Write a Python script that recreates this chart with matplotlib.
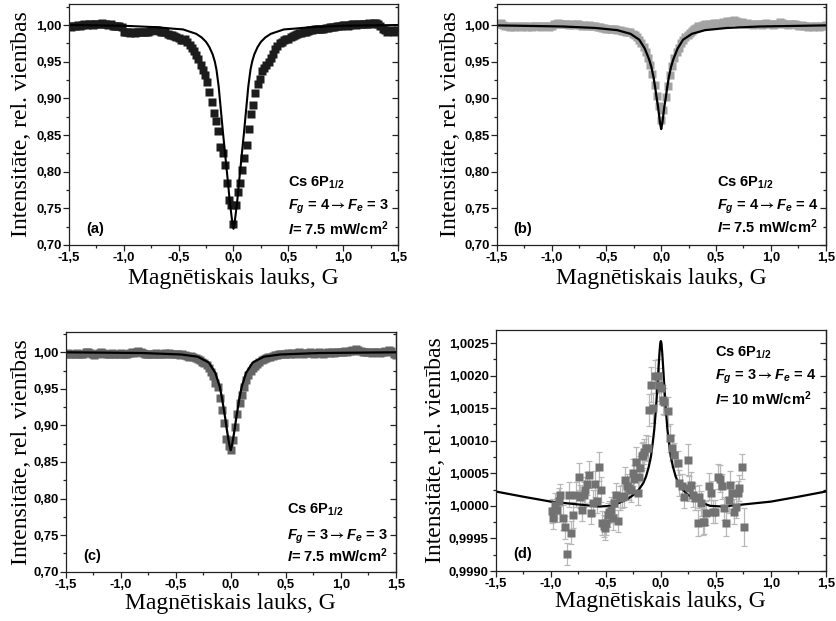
import matplotlib as mpl
mpl.use('Agg')
import matplotlib.pyplot as plt
from matplotlib.ticker import MultipleLocator, FuncFormatter
import numpy as np

plt.rcParams['font.family'] = ['Liberation Sans', 'DejaVu Sans']
plt.rcParams['mathtext.fontset'] = 'custom'
plt.rcParams['mathtext.rm'] = 'Liberation Sans:bold'
plt.rcParams['mathtext.it'] = 'Liberation Sans:bold:italic'
plt.rcParams['mathtext.bf'] = 'Liberation Sans:bold'
plt.rcParams['mathtext.sf'] = 'STIXGeneral:bold'
plt.rcParams['mathtext.fallback'] = 'stixsans'

#---------------------- measured signals (field scan -1.5 .. 1.5 G, step 0.02 G)
field = np.linspace(-1.5, 1.5, 151)

sig_a = [0.998, 0.997, 0.999, 0.998, 1.000, 0.999, 1.000, 1.001, 1.000, 1.001,
         1.001, 1.000, 1.001, 1.002, 1.001, 1.003, 1.002, 1.002, 1.000, 1.001,
         0.999, 0.999, 0.998, 0.998, 0.997, 0.991, 0.990, 0.990, 0.989, 0.990,
         0.989, 0.990, 0.991, 0.991, 0.991, 0.990, 0.991, 0.992, 0.993, 0.993,
         0.993, 0.992, 0.991, 0.991, 0.990, 0.988, 0.987, 0.986, 0.985, 0.984,
         0.982, 0.980, 0.979, 0.981, 0.977, 0.973, 0.969, 0.964, 0.959, 0.953,
         0.946, 0.939, 0.932, 0.922, 0.909, 0.895, 0.880, 0.869, 0.855, 0.834,
         0.825, 0.809, 0.784, 0.762, 0.754, 0.728, 0.754, 0.772, 0.784, 0.802,
         0.819, 0.836, 0.858, 0.879, 0.891, 0.907, 0.919, 0.927, 0.937, 0.942,
         0.945, 0.950, 0.955, 0.961, 0.967, 0.972, 0.975, 0.977, 0.979, 0.981,
         0.981, 0.983, 0.985, 0.986, 0.988, 0.989, 0.989, 0.990, 0.991, 0.992,
         0.993, 0.993, 0.994, 0.994, 0.995, 0.995, 0.995, 0.996, 0.996, 0.997,
         0.997, 0.997, 0.998, 0.998, 0.999, 1.000, 1.000, 0.999, 1.000, 1.001,
         1.001, 1.000, 1.001, 1.002, 1.001, 1.002, 1.002, 1.003, 1.002, 1.003,
         1.003, 1.002, 0.998, 0.994, 0.993, 0.991, 0.992, 0.993, 0.991, 0.992,
         0.993]

sig_b = [1.002, 1.001, 1.003, 1.000, 0.999, 0.998, 0.997, 0.998, 0.997, 0.998,
         0.998, 0.997, 0.999, 0.998, 0.997, 0.998, 0.997, 0.998, 0.999, 0.998,
         0.997, 0.998, 0.999, 0.998, 0.997, 0.999, 1.001, 1.002, 1.003, 1.002,
         1.001, 1.002, 1.001, 1.000, 1.001, 1.000, 1.002, 1.001, 1.000, 0.999,
         1.000, 0.999, 1.000, 0.999, 0.998, 0.998, 0.997, 0.997, 0.996, 0.996,
         0.995, 0.995, 0.994, 0.995, 0.994, 0.993, 0.993, 0.992, 0.992, 0.991,
         0.990, 0.990, 0.988, 0.986, 0.983, 0.979, 0.975, 0.970, 0.963, 0.955,
         0.946, 0.933, 0.918, 0.903, 0.890, 0.870, 0.884, 0.902, 0.917, 0.932,
         0.944, 0.955, 0.963, 0.969, 0.975, 0.979, 0.984, 0.987, 0.989, 0.992,
         0.994, 0.996, 0.998, 0.999, 1.000, 1.001, 1.000, 1.002, 1.001, 1.003,
         1.002, 1.003, 1.002, 1.004, 1.003, 1.005, 1.004, 1.006, 1.007, 1.005,
         1.004, 1.003, 1.004, 1.002, 1.003, 1.001, 1.002, 1.000, 1.001, 1.002,
         1.001, 1.000, 1.002, 1.003, 1.002, 1.001, 1.000, 1.001, 1.002, 1.004,
         1.003, 1.002, 1.001, 1.000, 1.001, 1.002, 1.001, 1.000, 0.999, 1.000,
         0.998, 0.999, 0.997, 0.998, 0.997, 0.999, 0.998, 0.997, 0.998, 0.999,
         1.000]

sig_c = [0.998, 0.999, 0.998, 0.997, 0.998, 0.999, 0.998, 0.997, 0.998, 1.000,
         1.001, 0.999, 0.998, 0.996, 0.998, 0.999, 1.000, 0.999, 0.998, 0.997,
         0.998, 0.999, 0.998, 0.997, 0.998, 0.999, 0.998, 0.997, 0.998, 0.999,
         1.000, 0.999, 1.001, 1.002, 1.000, 0.999, 0.998, 0.997, 0.998, 0.997,
         0.998, 0.999, 0.998, 0.997, 0.998, 0.999, 0.998, 0.999, 0.998, 0.997,
         0.998, 0.997, 0.996, 0.997, 0.996, 0.995, 0.994, 0.995, 0.993, 0.992,
         0.991, 0.989, 0.987, 0.985, 0.982, 0.978, 0.973, 0.968, 0.958, 0.953,
         0.938, 0.921, 0.904, 0.882, 0.872, 0.866, 0.880, 0.898, 0.915, 0.931,
         0.942, 0.953, 0.962, 0.969, 0.974, 0.978, 0.981, 0.984, 0.987, 0.989,
         0.991, 0.992, 0.993, 0.994, 0.995, 0.996, 0.996, 0.997, 0.997, 0.998,
         0.998, 0.999, 0.998, 0.999, 0.998, 0.999, 1.000, 0.999, 0.998, 0.999,
         0.999, 1.000, 0.999, 0.998, 0.999, 1.000, 0.999, 0.998, 0.999, 1.000,
         0.999, 1.000, 0.999, 1.000, 1.001, 1.000, 1.001, 1.002, 1.001, 1.002,
         1.003, 1.002, 1.004, 1.003, 1.002, 1.001, 1.000, 1.001, 1.000, 0.999,
         1.000, 1.001, 1.000, 0.999, 1.001, 1.002, 1.001, 1.003, 1.002, 0.998,
         0.996]

# panel (d): bright resonance, points with error bars
d_x = [-0.990, -0.978, -0.960, -0.945, -0.930, -0.920, -0.893, -0.872, -0.854, -0.839,
       -0.818, -0.796, -0.772, -0.748, -0.733, -0.718, -0.696, -0.687, -0.675, -0.657,
       -0.636, -0.615, -0.602, -0.584, -0.566, -0.545, -0.536, -0.520, -0.508, -0.499,
       -0.484, -0.469, -0.453, -0.438, -0.423, -0.408, -0.387, -0.372, -0.353, -0.332,
       -0.323, -0.311, -0.293, -0.272, -0.256, -0.241, -0.226, -0.211, -0.196, -0.190,
       -0.175, -0.165, -0.150, -0.135, -0.120, -0.105, -0.090, -0.068, -0.050, -0.029,
       -0.014, 0.004, 0.017, 0.030, 0.062, 0.083, 0.102, 0.123, 0.153, 0.168,
       0.193, 0.214, 0.244, 0.253, 0.274, 0.295, 0.314, 0.335, 0.350, 0.365,
       0.380, 0.396, 0.411, 0.435, 0.456, 0.477, 0.496, 0.517, 0.538, 0.556,
       0.578, 0.593, 0.617, 0.629, 0.648, 0.669, 0.684, 0.699, 0.714, 0.738,
       0.760]
d_y = [0.99992, 0.99982, 1.00001, 0.99994, 1.00007, 1.00017, 0.99982, 0.99967, 0.99926, 1.00017,
       0.99959, 0.99986, 1.00017, 1.00045, 1.00014, 0.99994, 1.00017, 1.00025, 1.00034, 1.00048,
       0.99989, 1.00005, 1.00034, 1.00007, 1.00060, 1.00025, 0.99974, 0.99969, 0.99966, 0.99973,
       0.99986, 0.99991, 0.99994, 0.99981, 1.00004, 1.00017, 0.99977, 1.00012, 1.00014, 1.00015,
       1.00039, 1.00030, 1.00027, 1.00025, 1.00051, 1.00042, 1.00068, 1.00019, 1.00045, 1.00058,
       1.00076, 1.00078, 1.00083, 1.00089, 1.00089, 1.00147, 1.00186, 1.00150, 1.00199, 1.00199,
       1.00186, 1.00181, 1.00163, 1.00160, 1.00145, 1.00104, 1.00089, 1.00078, 1.00066, 1.00035,
       1.00030, 1.00014, 1.00071, 1.00027, 1.00032, 1.00017, 1.00012, 0.99973, 1.00014, 1.00004,
       0.99976, 0.99976, 0.99989, 1.00030, 1.00019, 0.99991, 0.99991, 1.00045, 1.00042, 1.00030,
       0.99996, 0.99973, 1.00009, 1.00032, 1.00019, 0.99991, 0.99999, 1.00019, 1.00027, 1.00060,
       0.99968]
# error bars, in units of 1e-5
d_err = np.array([18, 17, 19, 18, 20, 17, 19, 18, 17, 19,
                  18, 20, 19, 21, 18, 17, 19, 20, 18, 21,
                  17, 19, 20, 18, 22, 19, 18, 17, 19, 18,
                  18, 17, 19, 18, 17, 18, 17, 19, 18, 17,
                  20, 19, 18, 19, 21, 20, 22, 18, 20, 19,
                  21, 20, 19, 20, 19, 24, 27, 23, 25, 26,
                  25, 24, 22, 21, 22, 21, 20, 19, 18, 20,
                  19, 18, 24, 19, 20, 18, 19, 20, 18, 19,
                  20, 19, 18, 21, 19, 18, 18, 19, 20, 19,
                  18, 19, 20, 21, 18, 19, 18, 19, 20, 19,
                  29]) * 1e-5

#---------------------- theoretical curves
fit_a_x = [-1.5, -1.0, -0.7, -0.55, -0.46, -0.40, -0.34, -0.29, -0.25, -0.22, -0.19,
           -0.17, -0.155, -0.135, -0.115, -0.095, -0.08, -0.065, -0.05, -0.035, -0.02,
           -0.01, 0.0, 0.01, 0.02, 0.035, 0.05, 0.065, 0.08, 0.095, 0.115, 0.135, 0.155,
           0.17, 0.19, 0.22, 0.25, 0.29, 0.34, 0.40, 0.46, 0.55, 0.7, 1.0, 1.5]
fit_a_y = [1.000, 0.999, 0.997, 0.995, 0.994, 0.991, 0.988, 0.983, 0.977, 0.970, 0.960,
           0.950, 0.939, 0.916, 0.884, 0.852, 0.830, 0.807, 0.785, 0.761, 0.742,
           0.730, 0.722, 0.730, 0.742, 0.761, 0.785, 0.807, 0.830, 0.852, 0.884, 0.916, 0.939,
           0.950, 0.960, 0.970, 0.977, 0.983, 0.988, 0.991, 0.994, 0.995, 0.997, 0.999, 1.000]

fit_b_x = [-1.5, -0.9, -0.6, -0.4, -0.28, -0.2, -0.15, -0.11, -0.09, -0.07, -0.055,
           -0.04, -0.03, -0.02, -0.01, 0.0, 0.01, 0.02, 0.03, 0.04, 0.055, 0.07,
           0.09, 0.11, 0.15, 0.2, 0.28, 0.4, 0.6, 0.9, 1.5]
fit_b_y = [0.9995, 0.998, 0.996, 0.993, 0.988, 0.980, 0.968, 0.953, 0.943, 0.929, 0.915,
           0.899, 0.890, 0.878, 0.866, 0.858, 0.866, 0.878, 0.890, 0.899, 0.915, 0.929,
           0.943, 0.953, 0.968, 0.980, 0.988, 0.993, 0.996, 0.998, 0.9995]

fit_c_x = [-1.5, -0.8, -0.45, -0.3, -0.2, -0.14, -0.1, -0.08, -0.065, -0.05, -0.035,
           -0.02, -0.01, 0.0, 0.01, 0.02, 0.035, 0.05, 0.065, 0.08, 0.1, 0.14, 0.2,
           0.3, 0.45, 0.8, 1.5]
fit_c_y = [1.000, 0.999, 0.997, 0.994, 0.986, 0.972, 0.953, 0.938, 0.924, 0.910, 0.894,
           0.880, 0.872, 0.866, 0.872, 0.880, 0.894, 0.910, 0.924, 0.938, 0.953, 0.972, 0.986,
           0.994, 0.997, 0.999, 1.000]

fit_d_x = [-1.5, -1.25, -1.0, -0.77, -0.56, -0.45, -0.4, -0.35, -0.29, -0.24, -0.2, -0.16,
           -0.135, -0.11, -0.09, -0.075, -0.06, -0.048, -0.038, -0.028, -0.02, -0.012, -0.005,
           0.0, 0.005, 0.012, 0.02, 0.028, 0.038, 0.048, 0.06, 0.075, 0.09, 0.11, 0.135,
           0.16, 0.2, 0.24, 0.29, 0.35, 0.4, 0.45, 0.56, 0.77, 1.0, 1.25, 1.5]
fit_d_y = [1.00022, 1.00014, 1.000065, 1.000025, 0.99999, 1.00000, 1.00003, 1.00007, 1.00012,
           1.00018, 1.00025, 1.00035, 1.00045, 1.00060, 1.00076, 1.00095, 1.00117, 1.00142,
           1.00166, 1.00193, 1.00215, 1.00236, 1.00250, 1.00253, 1.00250, 1.00236, 1.00215,
           1.00193, 1.00166, 1.00142, 1.00117, 1.00095, 1.00076, 1.00060, 1.00045, 1.00035,
           1.00025, 1.00018, 1.00012, 1.00007, 1.00003, 1.00000, 0.99999, 1.000025, 1.000065,
           1.00014, 1.00022]

xlabel = 'Magnētiskais lauks, G'
ylabel = 'Intensitāte, rel. vienības'
serif = ['Liberation Serif', 'DejaVu Serif']
ARROW = r'$\mathsf{\rightarrow}$'


def comma_fmt(ndig):
    def f(v, pos):
        if abs(v) < 1e-9:
            v = 0.0
        return f'{v:.{ndig}f}'.replace('.', ',')
    return FuncFormatter(f)


def style_axes(ax, ylim, ymaj, ymin, ydig, ylab_x, xlab_y):
    ax.set_xlim(-1.5, 1.5)
    ax.set_ylim(*ylim)
    ax.xaxis.set_major_locator(MultipleLocator(0.5))
    ax.xaxis.set_minor_locator(MultipleLocator(0.25))
    ax.yaxis.set_major_locator(MultipleLocator(ymaj))
    ax.yaxis.set_minor_locator(MultipleLocator(ymin))
    ax.xaxis.set_major_formatter(comma_fmt(1))
    ax.yaxis.set_major_formatter(comma_fmt(ydig))
    ax.tick_params(which='both', direction='out', top=False, right=False,
                   labelsize=9.4, width=0.9, color='#222222', pad=1.2)
    ax.tick_params(which='major', length=4)
    ax.tick_params(which='minor', length=2.5)
    for lab in ax.get_xticklabels() + ax.get_yticklabels():
        lab.set_fontweight('bold')
    for sp in ax.spines.values():
        sp.set_linewidth(0.9)
        sp.set_color('#222222')
    # mirrored ticks on the right spine, pointing in
    sec = ax.secondary_yaxis('right')
    sec.yaxis.set_major_locator(MultipleLocator(ymaj))
    sec.yaxis.set_minor_locator(MultipleLocator(ymin))
    sec.tick_params(which='both', direction='in', labelright=False, width=0.9, color='#222222')
    sec.tick_params(which='major', length=4)
    sec.tick_params(which='minor', length=2.5)
    sec.spines['right'].set_linewidth(0.9)
    sec.spines['right'].set_color('#222222')
    ax.set_xlabel(xlabel, family=serif, fontsize=17)
    ax.set_ylabel(ylabel, family=serif, fontsize=17)
    ax.xaxis.set_label_coords(0.5, xlab_y)
    ax.yaxis.set_label_coords(ylab_x, 0.5)


def annotate(ax, x0, ys, lines, tag, tag_xy):
    for y, s in zip(ys, lines):
        ax.text(x0, y, s, transform=ax.transAxes, fontsize=10.5, fontweight='bold',
                va='baseline', ha='left')
    ax.text(tag_xy[0], tag_xy[1], tag, transform=ax.transAxes, fontsize=10.5,
            fontweight='bold', va='baseline', ha='left')


fig = plt.figure(figsize=(8.37, 6.21), dpi=100)
ax_a = fig.add_axes([0.0824, 0.6055, 0.3931, 0.3881])
ax_b = fig.add_axes([0.5934, 0.6055, 0.3931, 0.3881])
ax_c = fig.add_axes([0.0785, 0.0794, 0.3943, 0.3865])
ax_d = fig.add_axes([0.5926, 0.0805, 0.3939, 0.3881])

# (a)
ax_a.plot(field, sig_a, 's', color='#1c1c1c', ms=5.2, mec='none')
ax_a.plot(fit_a_x, fit_a_y, '-', color='black', lw=1.5)
style_axes(ax_a, (0.70, 1.0287), 0.05, 0.025, 2, -0.112, -0.095)
annotate(ax_a, 0.666, [0.242, 0.148, 0.041],
         ['Cs 6P$_{1/2}$', f'$F_g$ = 4{ARROW}$F_e$ = 3', '$I$= 7.5 mW/cm$^2$'],
         '(a)', (0.052, 0.048))

# (b)
ax_b.plot(field, sig_b, 's', color='#a3a3a3', ms=5.2, mec='none')
ax_b.plot(fit_b_x, fit_b_y, '-', color='black', lw=1.6)
style_axes(ax_b, (0.70, 1.0287), 0.05, 0.025, 2, -0.109, -0.095)
annotate(ax_b, 0.669, [0.242, 0.145, 0.048],
         ['Cs 6P$_{1/2}$', f'$F_g$ = 4{ARROW}$F_e$ = 4', '$I$= 7.5 mW/cm$^2$'],
         '(b)', (0.049, 0.048))

# (c)
ax_c.plot(field, sig_c, 's', color='#646464', ms=5.2, mec='none')
ax_c.plot(fit_c_x, fit_c_y, '-', color='black', lw=1.6)
style_axes(ax_c, (0.70, 1.0282), 0.05, 0.025, 2, -0.102, -0.088)
annotate(ax_c, 0.670, [0.240, 0.132, 0.042],
         ['Cs 6P$_{1/2}$', f'$F_g$ = 3{ARROW}$F_e$ = 3', '$I$= 7.5 mW/cm$^2$'],
         '(c)', (0.052, 0.049))

# (d)
ax_d.errorbar(d_x, d_y, yerr=d_err, fmt='s', color='#727272', ms=5.6, mec='none',
              ecolor='#b8b8b8', elinewidth=0.9, capsize=2.2, capthick=0.9)
ax_d.plot(fit_d_x, fit_d_y, '-', color='black', lw=1.6)
style_axes(ax_d, (0.9990, 1.0027), 0.0005, 0.00025, 4, -0.152, -0.085)
annotate(ax_d, 0.664, [0.889, 0.793, 0.689],
         ['Cs 6P$_{1/2}$', f'$F_g$ = 3{ARROW}$F_e$ = 4', '$I$= 10 mW/cm$^2$'],
         '(d)', (0.051, 0.053))

fig.savefig('out.png', dpi=100)
